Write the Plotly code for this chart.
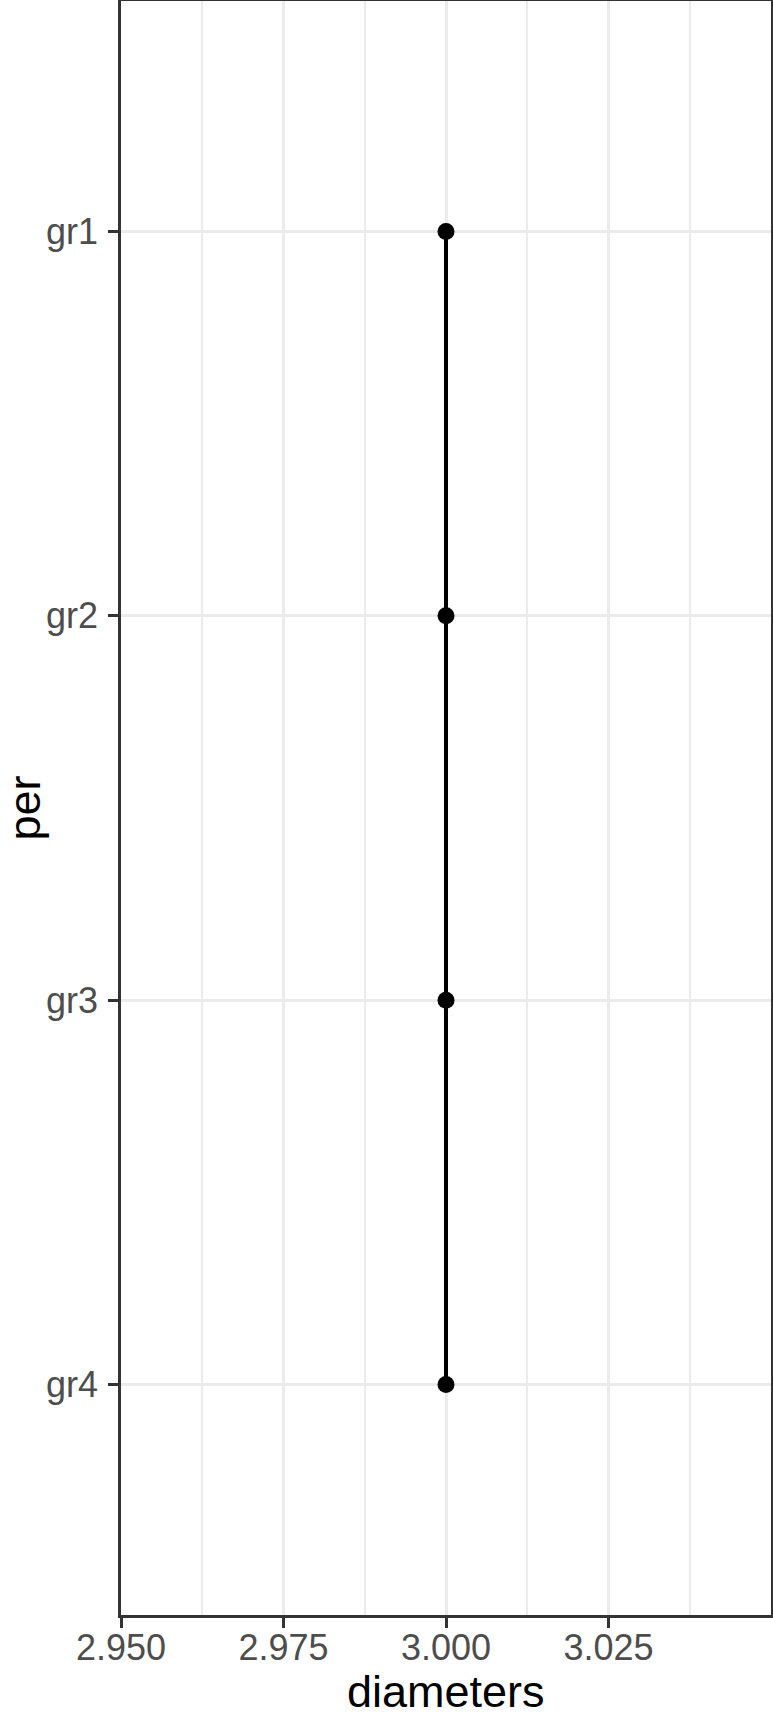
import plotly.graph_objects as go

categories = ["gr1", "gr2", "gr3", "gr4"]
diameters = [3.0, 3.0, 3.0, 3.0]
x_ticks = [2.950, 2.975, 3.000, 3.025]
x_tick_labels = ["2.950", "2.975", "3.000", "3.025"]
x_minor_ticks = [2.9625, 2.9875, 3.0125, 3.0375]
x_title = "diameters"
y_title = "per"

fig = go.Figure()
fig.add_trace(go.Scatter(
    x=diameters, y=categories, mode="lines+markers",
    line=dict(color="black", width=4),
    marker=dict(color="black", size=17),
    showlegend=False,
))

axis_common = dict(
    showline=True, mirror=True, linecolor="#333333", linewidth=2.6,
    ticks="outside", ticklen=10, tickwidth=2.8, tickcolor="#333333",
    tickfont=dict(family="Liberation Sans, Arial", size=36, color="#4D4D4D"),
    gridcolor="#EBEBEB", gridwidth=2.8, zeroline=False,
)

fig.update_layout(
    width=773, height=1718,
    margin=dict(l=121, r=2, t=1, b=103, autoexpand=False),
    paper_bgcolor="white", plot_bgcolor="white",
    font=dict(family="Liberation Sans, Arial", color="black"),
    xaxis=dict(
        **axis_common,
        range=[2.95, 3.05], tickvals=x_ticks, ticktext=x_tick_labels,
        ticklabelstandoff=-11,
        minor=dict(showgrid=True, gridcolor="#EBEBEB", gridwidth=1.5,
                   tickvals=x_minor_ticks, ticks=""),
        automargin=False,
    ),
    yaxis=dict(
        **axis_common,
        type="category", categoryorder="array", categoryarray=categories,
        range=[3.6, -0.6],
        ticklabelstandoff=3,
        automargin=False,
    ),
    annotations=[
        dict(text=x_title, xref="paper", yref="paper", x=0.5, y=-0.0643,
             xanchor="center", yanchor="bottom", showarrow=False,
             font=dict(family="Liberation Sans, Arial", size=45, color="black")),
        dict(text=y_title, xref="paper", yref="paper", x=-0.150, y=0.5,
             xanchor="center", yanchor="middle", showarrow=False, textangle=-90,
             font=dict(family="Liberation Sans, Arial", size=45, color="black")),
    ],
)

fig.write_html("out.html", config={"displayModeBar": False},
               post_script="document.body.style.margin='0';document.body.style.padding='0';")
